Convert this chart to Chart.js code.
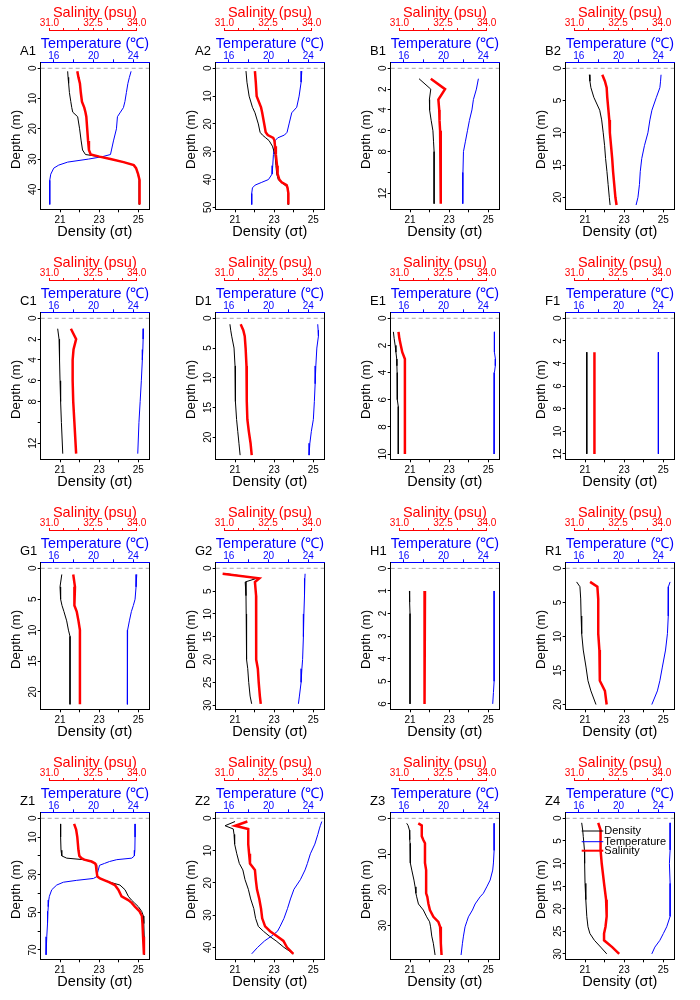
<!DOCTYPE html>
<html><head><meta charset="utf-8">
<script src="https://cdn.jsdelivr.net/npm/chart.js@4.4.1/dist/chart.umd.min.js"></script>
<style>
html,body{margin:0;padding:0;background:#fff;}
#wrap{position:relative;width:700px;height:1000px;background:#fff;}
.cell{position:absolute;width:175px;height:250px;}
canvas{display:block;}
</style></head><body><div id="wrap"></div>
<script>
// ---------- shared axis ticks ----------
const densityTicks = [21, 22, 23, 24, 25];
const densityLabels = [21, 23, 25];
const temperatureTicks = [16, 18, 20, 22, 24];
const temperatureLabels = [16, 20, 24];
const salinityTicks = [31, 31.5, 32, 32.5, 33, 33.5, 34];
const salinityLabels = [31, 32.5, 34];

// ---------- station profiles ----------
const depthA1 = [1, 3, 5, 8, 11, 13, 14.5, 16, 20, 24, 27, 28.5, 29.2, 30, 31, 32, 33, 35, 37, 40, 45];
const densityA1 = [21.39, 21.41, 21.44, 21.48, 21.55, 21.6, 21.65, 21.9, 22.0, 22.08, 22.15, 22.3, 23.0, 23.58, 24.25, 24.77, 24.88, 24.98, 25.05, 25.05, 25.05];
const temperatureA1 = [23.77, 23.6, 23.45, 23.3, 23.15, 23.0, 22.7, 22.4, 22.3, 22.0, 21.8, 21.7, 20.9, 19.5, 17.4, 16.5, 16.0, 15.7, 15.6, 15.6, 15.6];
const salinityA1 = [31.96, 32.0, 32.05, 32.08, 32.12, 32.2, 32.24, 32.27, 32.3, 32.33, 32.36, 32.42, 32.72, 33.1, 33.55, 33.9, 33.98, 34.05, 34.1, 34.1, 34.1];
const depthTicksA1 = [0, 10, 20, 30, 40];
const depthLabelsA1 = [0, 10, 20, 30, 40];

const depthA2 = [1, 5, 10, 14, 16, 20, 23, 24, 25, 26, 28, 31, 35, 38, 40, 41, 42, 43, 45, 49];
const densityA2 = [21.56, 21.61, 21.72, 21.89, 22.02, 22.19, 22.28, 22.4, 22.57, 22.74, 22.91, 23.04, 23.09, 23.13, 23.21, 23.35, 23.55, 23.69, 23.72, 23.72];
const temperatureA2 = [23.34, 23.27, 23.07, 22.83, 22.33, 22.06, 21.86, 21.6, 20.92, 20.66, 20.59, 20.49, 20.42, 20.36, 19.99, 19.32, 18.65, 18.38, 18.31, 18.31];
const salinityA2 = [32.05, 32.08, 32.11, 32.26, 32.3, 32.37, 32.42, 32.49, 32.68, 32.72, 32.74, 32.77, 32.81, 32.83, 32.89, 32.97, 33.14, 33.17, 33.2, 33.2];
const depthTicksA2 = [0, 10, 20, 30, 40, 50];
const depthLabelsA2 = [0, 10, 20, 30, 40, 50];

const depthB1 = [1, 2, 3, 4, 5, 6, 7, 8, 10, 13];
const densityB1 = [21.46, 22.06, 21.99, 22.0, 22.08, 22.17, 22.2, 22.23, 22.23, 22.23];
const temperatureB1 = [23.5, 23.3, 23.0, 22.85, 22.6, 22.4, 22.2, 22.0, 21.95, 21.93];
const salinityB1 = [32.08, 32.57, 32.34, 32.37, 32.38, 32.4, 32.41, 32.42, 32.43, 32.43];
const depthTicksB1 = [0, 2, 4, 6, 8, 10, 12];
const depthLabelsB1 = [0, 2, 4, 6, 8, 12];

const depthB2 = [1, 2, 3, 4.5, 6.5, 8, 10, 12, 14, 16, 18, 20, 21.2];
const densityB2 = [21.22, 21.25, 21.3, 21.45, 21.75, 21.85, 21.93, 22.0, 22.05, 22.12, 22.18, 22.24, 22.28];
const temperatureB2 = [24.27, 24.22, 24.15, 23.8, 23.35, 23.15, 22.95, 22.6, 22.33, 22.18, 22.1, 21.95, 21.76];
const salinityB2 = [31.96, 32.05, 32.11, 32.13, 32.17, 32.2, 32.22, 32.26, 32.3, 32.33, 32.37, 32.41, 32.45];
const depthTicksB2 = [0, 5, 10, 15, 20];
const depthLabelsB2 = [0, 5, 10, 15, 20];

const depthC1 = [1, 2, 3, 4, 6, 8, 10, 13];
const densityC1 = [20.88, 20.95, 20.97, 20.98, 21.0, 21.03, 21.07, 21.14];
const temperatureC1 = [25.01, 24.98, 24.95, 24.9, 24.8, 24.68, 24.56, 24.44];
const salinityC1 = [31.74, 31.92, 31.83, 31.8, 31.8, 31.82, 31.86, 31.92];
const depthTicksC1 = [0, 2, 4, 6, 8, 10, 12];
const depthLabelsC1 = [0, 2, 4, 6, 8, 12];

const depthD1 = [1, 2, 3, 5, 8, 11, 14, 17, 19, 21, 23];
const densityD1 = [20.74, 20.78, 20.83, 20.95, 21.0, 21.01, 21.03, 21.08, 21.14, 21.2, 21.26];
const temperatureD1 = [24.94, 24.98, 25.01, 24.85, 24.75, 24.68, 24.6, 24.5, 24.3, 24.15, 24.07];
const salinityD1 = [31.56, 31.65, 31.7, 31.73, 31.76, 31.77, 31.77, 31.79, 31.84, 31.9, 31.94];
const depthTicksD1 = [0, 5, 10, 15, 20];
const depthLabelsD1 = [0, 5, 10, 15, 20];

const depthE1 = [1, 1.5, 2, 2.5, 3, 3.5, 4, 6, 6.5, 8, 10];
const densityE1 = [20.15, 20.19, 20.24, 20.28, 20.32, 20.33, 20.34, 20.35, 20.4, 20.4, 20.4];
const temperatureE1 = [25.11, 25.11, 25.11, 25.11, 25.21, 25.2, 25.11, 25.08, 25.08, 25.08, 25.08];
const salinityE1 = [30.97, 31.0, 31.05, 31.1, 31.19, 31.19, 31.19, 31.19, 31.19, 31.19, 31.19];
const depthTicksE1 = [0, 2, 4, 6, 8, 10];
const depthLabelsE1 = [0, 2, 4, 6, 8, 10];

const depthF1 = [3, 12];
const densityF1 = [21.09, 21.09];
const temperatureF1 = [24.0, 24.0];
const salinityF1 = [31.69, 31.69];
const depthTicksF1 = [0, 2, 4, 6, 8, 10, 12];
const depthLabelsF1 = [0, 2, 4, 6, 8, 10, 12];

const depthG1 = [1, 3, 5, 6, 7, 8.5, 10, 11, 15, 22];
const densityG1 = [21.09, 21.0, 21.03, 21.1, 21.2, 21.34, 21.43, 21.51, 21.51, 21.51];
const temperatureG1 = [24.34, 24.27, 24.17, 24.0, 23.8, 23.6, 23.42, 23.4, 23.4, 23.4];
const salinityG1 = [31.82, 31.88, 31.85, 31.87, 31.94, 32.0, 32.05, 32.05, 32.05, 32.05];
const depthTicksG1 = [0, 5, 10, 15, 20];
const depthLabelsG1 = [0, 5, 10, 15, 20];

const depthG2 = [1.2, 2.2, 3, 6, 10, 15, 20, 22, 25, 28, 29.7];
const densityG2 = [20.57, 22.11, 21.52, 21.56, 21.57, 21.58, 21.6, 21.65, 21.7, 21.77, 21.85];
const temperatureG2 = [23.67, 23.65, 23.62, 23.6, 23.55, 23.5, 23.42, 23.35, 23.27, 23.1, 23.0];
const salinityG2 = [30.94, 32.2, 32.05, 32.09, 32.09, 32.09, 32.1, 32.15, 32.18, 32.22, 32.25];
const depthTicksG2 = [0, 5, 10, 15, 20, 25, 30];
const depthLabelsG2 = [0, 5, 10, 15, 20, 25, 30];

const depthH1 = [1, 1.5, 2, 3, 3.9, 4, 5, 5.5, 6];
const densityH1 = [20.97, 20.98, 21.0, 21.0, 21.0, 21.0, 21.0, 21.0, 21.0];
const temperatureH1 = [25.08, 25.08, 25.08, 25.08, 25.08, 25.08, 25.08, 25.01, 24.94];
const salinityH1 = [31.88, 31.88, 31.88, 31.88, 31.88, 31.85, 31.85, 31.85, 31.85];
const depthTicksH1 = [0, 1, 2, 3, 4, 5, 6];
const depthLabelsH1 = [0, 1, 2, 3, 4, 5, 6];

const depthR1 = [2, 2.7, 4.5, 7, 9.6, 12, 14.5, 16.5, 18, 20];
const densityR1 = [20.57, 20.74, 20.78, 20.8, 20.83, 20.91, 21.05, 21.15, 21.3, 21.56];
const temperatureR1 = [25.18, 25.01, 25.01, 24.98, 24.91, 24.72, 24.4, 24.15, 23.9, 23.34];
const salinityR1 = [31.54, 31.79, 31.82, 31.82, 31.82, 31.86, 31.87, 31.88, 32.05, 32.11];
const depthTicksR1 = [0, 5, 10, 15, 20];
const depthLabelsR1 = [0, 5, 10, 15, 20];

const depthZ1 = [3, 6, 10, 17, 20, 21.2, 22, 23, 24, 25, 28, 31, 32, 33, 34, 35.5, 38, 41.5, 43.5, 45, 47, 49.5, 52, 56, 63, 72.6];
const densityZ1 = [21.03, 21.03, 21.03, 21.05, 21.09, 21.34, 22.19, 22.62, 22.79, 22.87, 22.87, 22.9, 23.04, 23.3, 23.55, 24.06, 24.32, 24.49, 24.65, 24.8, 25.0, 25.17, 25.26, 25.28, 25.3, 25.31];
const temperatureZ1 = [24.17, 24.17, 24.17, 24.15, 24.1, 23.84, 22.33, 21.6, 21.1, 20.6, 20.45, 20.32, 19.99, 18.31, 16.97, 16.3, 15.8, 15.56, 15.5, 15.46, 15.44, 15.42, 15.4, 15.35, 15.3, 15.23];
const salinityZ1 = [31.85, 31.92, 31.96, 32.0, 32.03, 32.1, 32.2, 32.45, 32.57, 32.6, 32.62, 32.65, 32.74, 32.9, 33.05, 33.25, 33.37, 33.48, 33.71, 33.83, 33.94, 34.1, 34.18, 34.2, 34.22, 34.25];
const depthTicksZ1 = [0, 10, 20, 30, 40, 50, 60, 70];
const depthLabelsZ1 = [0, 10, 30, 50, 70];

const depthZ2 = [1, 2.3, 3.3, 5, 8, 11, 14, 16, 19, 22, 25, 28, 31, 33.5, 35, 36.5, 38, 40, 42];
const densityZ2 = [21.0, 20.49, 20.91, 20.95, 20.98, 21.09, 21.22, 21.4, 21.51, 21.68, 21.8, 21.96, 22.05, 22.19, 22.45, 22.75, 23.1, 23.5, 23.98];
const temperatureZ2 = [25.35, 25.2, 25.1, 24.95, 24.65, 24.2, 23.9, 23.67, 23.2, 22.55, 22.2, 21.9, 21.55, 21.16, 20.9, 20.3, 19.6, 18.9, 18.31];
const salinityZ2 = [31.79, 31.37, 31.82, 31.82, 31.82, 31.85, 31.88, 32.05, 32.08, 32.12, 32.2, 32.26, 32.3, 32.4, 32.57, 32.8, 33.03, 33.15, 33.37];
const depthTicksZ2 = [0, 10, 20, 30, 40];
const depthLabelsZ2 = [0, 10, 20, 30, 40];

const depthZ3 = [1.4, 2, 3.3, 5, 6, 7, 9, 12.5, 14.5, 17.3, 19.2, 21, 22, 24, 25.7, 27.6, 29, 30.4, 33, 35, 38.3];
const densityZ3 = [20.83, 20.9, 20.97, 20.98, 20.99, 21.0, 21.0, 21.03, 21.09, 21.2, 21.26, 21.3, 21.34, 21.43, 21.68, 21.85, 22.0, 22.05, 22.11, 22.19, 22.28];
const temperatureZ3 = [25.08, 25.08, 25.08, 25.08, 25.08, 25.08, 25.08, 25.01, 24.94, 24.68, 24.34, 24.0, 23.67, 23.17, 22.9, 22.5, 22.33, 22.16, 22.0, 21.9, 21.76];
const salinityZ3 = [31.65, 31.77, 31.77, 31.77, 31.82, 31.88, 31.88, 31.88, 31.92, 31.92, 31.92, 31.92, 31.96, 32.0, 32.05, 32.17, 32.34, 32.4, 32.42, 32.43, 32.45];
const depthTicksZ3 = [0, 10, 20, 30];
const depthLabelsZ3 = [0, 10, 20, 30];

const depthZ4 = [1, 2.6, 4, 7, 10, 14.4, 18, 21.7, 24, 25.5, 27, 28.5, 30];
const densityZ4 = [20.83, 20.88, 20.91, 20.97, 20.98, 21.0, 21.04, 21.09, 21.15, 21.25, 21.48, 21.8, 22.11];
const temperatureZ4 = [25.18, 25.18, 25.18, 25.18, 25.11, 25.18, 25.18, 25.18, 24.84, 24.5, 24.15, 23.65, 23.34];
const salinityZ4 = [31.82, 31.9, 31.9, 31.9, 31.94, 32.02, 32.09, 32.11, 32.07, 32.02, 32.02, 32.3, 32.54];
const depthTicksZ4 = [0, 5, 10, 15, 20, 25, 30];
const depthLabelsZ4 = [0, 5, 10, 15, 20, 25, 30];

// ---------- panel table (built from the arrays) ----------
const panels = [
  {name:'A1', d:depthA1, rho:densityA1, t:temperatureA1, s:salinityA1, yt:depthTicksA1, yl:depthLabelsA1, ymin:-1.98, ymax:46.6},
  {name:'A2', d:depthA2, rho:densityA2, t:temperatureA2, s:salinityA2, yt:depthTicksA2, yl:depthLabelsA2, ymin:-2.16, ymax:50.7},
  {name:'B1', d:depthB1, rho:densityB1, t:temperatureB1, s:salinityB1, yt:depthTicksB1, yl:depthLabelsB1, ymin:-0.576, ymax:13.54},
  {name:'B2', d:depthB2, rho:densityB2, t:temperatureB2, s:salinityB2, yt:depthTicksB2, yl:depthLabelsB2, ymin:-0.93, ymax:21.86},
  {name:'C1', d:depthC1, rho:densityC1, t:temperatureC1, s:salinityC1, yt:depthTicksC1, yl:depthLabelsC1, ymin:-0.576, ymax:13.54},
  {name:'D1', d:depthD1, rho:densityD1, t:temperatureD1, s:salinityD1, yt:depthTicksD1, yl:depthLabelsD1, ymin:-1.01, ymax:23.7},
  {name:'E1', d:depthE1, rho:densityE1, t:temperatureE1, s:salinityE1, yt:depthTicksE1, yl:depthLabelsE1, ymin:-0.44, ymax:10.39},
  {name:'F1', d:depthF1, rho:densityF1, t:temperatureF1, s:salinityF1, yt:depthTicksF1, yl:depthLabelsF1, ymin:-0.53, ymax:12.48},
  {name:'G1', d:depthG1, rho:densityG1, t:temperatureG1, s:salinityG1, yt:depthTicksG1, yl:depthLabelsG1, ymin:-0.97, ymax:22.8},
  {name:'G2', d:depthG2, rho:densityG2, t:temperatureG2, s:salinityG2, yt:depthTicksG2, yl:depthLabelsG2, ymin:-1.31, ymax:30.9},
  {name:'H1', d:depthH1, rho:densityH1, t:temperatureH1, s:salinityH1, yt:depthTicksH1, yl:depthLabelsH1, ymin:-0.27, ymax:6.24},
  {name:'R1', d:depthR1, rho:densityR1, t:temperatureR1, s:salinityR1, yt:depthTicksR1, yl:depthLabelsR1, ymin:-0.88, ymax:20.7},
  {name:'Z1', d:depthZ1, rho:densityZ1, t:temperatureZ1, s:salinityZ1, yt:depthTicksZ1, yl:depthLabelsZ1, ymin:-3.19, ymax:75.0},
  {name:'Z2', d:depthZ2, rho:densityZ2, t:temperatureZ2, s:salinityZ2, yt:depthTicksZ2, yl:depthLabelsZ2, ymin:-1.86, ymax:43.7},
  {name:'Z3', d:depthZ3, rho:densityZ3, t:temperatureZ3, s:salinityZ3, yt:depthTicksZ3, yl:depthLabelsZ3, ymin:-1.69, ymax:39.5},
  {name:'Z4', d:depthZ4, rho:densityZ4, t:temperatureZ4, s:salinityZ4, yt:depthTicksZ4, yl:depthLabelsZ4, ymin:-1.33, ymax:31.2, legend:true}
];

// ---------- style / layout ----------
const FONT = '"Liberation Sans", Arial, Helvetica, sans-serif';
const DENS_MIN = 20.013, DENS_MAX = 25.545;
const TEMP_MIN = 14.69, TEMP_MAX = 25.57;
const SAL_MIN = 30.702, SAL_MAX = 34.424;
const RED = '#ff0000', BLUE = '#0000ff', BLACK = '#000000';
Chart.defaults.font.family = FONT;

const deco = {
  id: 'deco',
  beforeDraw(chart) {
    // right and bottom edges of the plot box (left/top come from the axes)
    const {ctx, chartArea: a} = chart;
    ctx.save();
    ctx.strokeStyle = BLACK; ctx.lineWidth = 1;
    const l = Math.round(a.left), t = Math.round(a.top), r = Math.round(a.right), b = Math.round(a.bottom);
    ctx.beginPath();
    ctx.moveTo(l - 0.5, b + 0.5); ctx.lineTo(r + 0.5, b + 0.5); ctx.lineTo(r + 0.5, t);
    ctx.stroke();
    ctx.restore();
  },
  afterDraw(chart, args, opts) {
    const {ctx, chartArea: a} = chart;
    const s = chart.scales.xS;
    ctx.save();
    // salinity axis line, from first to last tick
    const y = Math.round(s.bottom) - 0.5;
    ctx.strokeStyle = RED; ctx.lineWidth = 1;
    ctx.beginPath();
    ctx.moveTo(s.getPixelForValue(salinityTicks[0]), y);
    ctx.lineTo(s.getPixelForValue(salinityTicks[salinityTicks.length - 1]), y);
    ctx.stroke();
    // panel label
    ctx.fillStyle = BLACK;
    ctx.font = '13px ' + FONT;
    ctx.textAlign = 'left'; ctx.textBaseline = 'alphabetic';
    ctx.fillText(opts.label, 20, 55);
    // legend
    if (opts.legend) {
      const order = ['Density', 'Temperature', 'Salinity'];
      const rows = [18.7, 29.4, 38.4];
      ctx.font = '11px ' + FONT;
      ctx.textBaseline = 'middle';
      order.forEach((lab, i) => {
        const ds = chart.data.datasets.find(d => d.label === lab);
        const yy = a.top + rows[i];
        ctx.strokeStyle = ds.borderColor; ctx.lineWidth = Math.min(ds.borderWidth, 2);
        ctx.beginPath(); ctx.moveTo(a.left + 16, yy); ctx.lineTo(a.left + 37.6, yy); ctx.stroke();
        ctx.fillStyle = BLACK;
        ctx.fillText(lab, a.left + 38.6, yy);
      });
    }
    ctx.restore();
  }
};

const wrap = document.getElementById('wrap');
const mctx = document.createElement('canvas').getContext('2d');
mctx.font = '10px ' + FONT;

panels.forEach((p, idx) => {
  const col = idx % 4, row = Math.floor(idx / 4);
  const div = document.createElement('div');
  div.className = 'cell';
  div.style.left = (col * 175) + 'px';
  div.style.top = (row * 250) + 'px';
  const cv = document.createElement('canvas');
  cv.width = 175; cv.height = 250;
  cv.style.width = '175px'; cv.style.height = '250px';
  div.appendChild(cv); wrap.appendChild(div);

  const pts = arr => p.d.map((dep, i) => ({x: arr[i], y: dep}));
  const widest = Math.max(...p.yl.map(v => mctx.measureText(String(v)).width));
  const yPad = 40.7 - 3 - 33.5 - widest / 2;
  const tickFont = {family: FONT, size: 10};
  const gridOpt = c => ({display: true, drawOnChartArea: false, drawTicks: true, tickLength: 3, color: c, lineWidth: 1});

  new Chart(cv, {
    type: 'line',
    data: {
      datasets: [
        {label: 'Salinity', data: pts(p.s), xAxisID: 'xS', yAxisID: 'y', borderColor: RED, borderWidth: 2.5, pointRadius: 0, fill: false, tension: 0},
        {label: 'Density', data: pts(p.rho), xAxisID: 'x', yAxisID: 'y', borderColor: BLACK, borderWidth: 1, pointRadius: 0, fill: false, tension: 0},
        {label: 'Temperature', data: pts(p.t), xAxisID: 'xT', yAxisID: 'y', borderColor: BLUE, borderWidth: 1, pointRadius: 0, fill: false, tension: 0},
        {label: 'surface', data: [{x: DENS_MIN, y: 0}, {x: DENS_MAX, y: 0}], xAxisID: 'x', yAxisID: 'y', borderColor: '#a8a8a8', borderWidth: 1, borderDash: [4, 3], pointRadius: 0, fill: false}
      ]
    },
    options: {
      responsive: false, animation: false, devicePixelRatio: 1,
      events: [],
      layout: {padding: {left: 0, top: 0, right: 26, bottom: 0}},
      plugins: {legend: {display: false}, tooltip: {enabled: false}, title: {display: false},
                deco: {label: p.name, legend: !!p.legend}},
      scales: {
        x: {
          type: 'linear', position: 'bottom', min: DENS_MIN, max: DENS_MAX, bounds: 'data',
          afterBuildTicks: s => { s.ticks = densityTicks.map(v => ({value: v})); },
          afterFit: s => { s.height = 40.7; },
          ticks: {autoSkip: false, maxRotation: 0, minRotation: 0, padding: 1.7, color: BLACK, font: tickFont,
                  callback: v => densityLabels.includes(v) ? String(v) : ''},
          grid: gridOpt(BLACK),
          border: {display: true, color: BLACK, width: 1},
          title: {display: true, text: 'Density (σt)', color: BLACK, font: {family: FONT, size: 14.5}, padding: {top: 0, bottom: 9.5}}
        },
        xT: {
          type: 'linear', position: 'top', weight: 1, min: TEMP_MIN, max: TEMP_MAX, bounds: 'data',
          afterBuildTicks: s => { s.ticks = temperatureTicks.map(v => ({value: v})); },
          afterFit: s => { s.height = 31.3; },
          ticks: {autoSkip: false, maxRotation: 0, minRotation: 0, padding: -2.7, color: BLUE, font: tickFont,
                  callback: v => temperatureLabels.includes(v) ? String(v) : ''},
          grid: gridOpt(BLUE),
          border: {display: true, color: BLUE, width: 1},
          title: {display: true, text: 'Temperature (℃)', color: BLUE, font: {family: FONT, size: 14.5}, padding: {top: 4, bottom: 0}}
        },
        xS: {
          type: 'linear', position: 'top', weight: 2, min: SAL_MIN, max: SAL_MAX, bounds: 'data',
          afterBuildTicks: s => { s.ticks = salinityTicks.map(v => ({value: v})); },
          afterFit: s => { s.height = 31; },
          ticks: {autoSkip: false, maxRotation: 0, minRotation: 0, padding: -1.7, color: RED, font: tickFont,
                  callback: v => salinityLabels.includes(v) ? v.toFixed(1) : ''},
          grid: gridOpt(RED),
          border: {display: false},
          title: {display: true, text: 'Salinity (psu)', color: RED, font: {family: FONT, size: 14.5}, padding: {top: 4.1, bottom: 0}}
        },
        y: {
          type: 'linear', position: 'left', reverse: true, min: p.ymin, max: p.ymax, bounds: 'data',
          afterBuildTicks: s => { s.ticks = p.yt.map(v => ({value: v})); },
          afterFit: s => { s.width = 40.7; },
          ticks: {autoSkip: false, minRotation: 90, maxRotation: 90, crossAlign: 'center', padding: yPad, color: BLACK, font: tickFont,
                  callback: v => p.yl.includes(v) ? String(v) : ''},
          grid: gridOpt(BLACK),
          border: {display: true, color: BLACK, width: 1},
          title: {display: true, text: 'Depth (m)  ', color: BLACK, font: {family: FONT, size: 13.3}, padding: {top: 7.9, bottom: 0}}
        }
      }
    },
    plugins: [deco]
  });
});
</script></body></html>
